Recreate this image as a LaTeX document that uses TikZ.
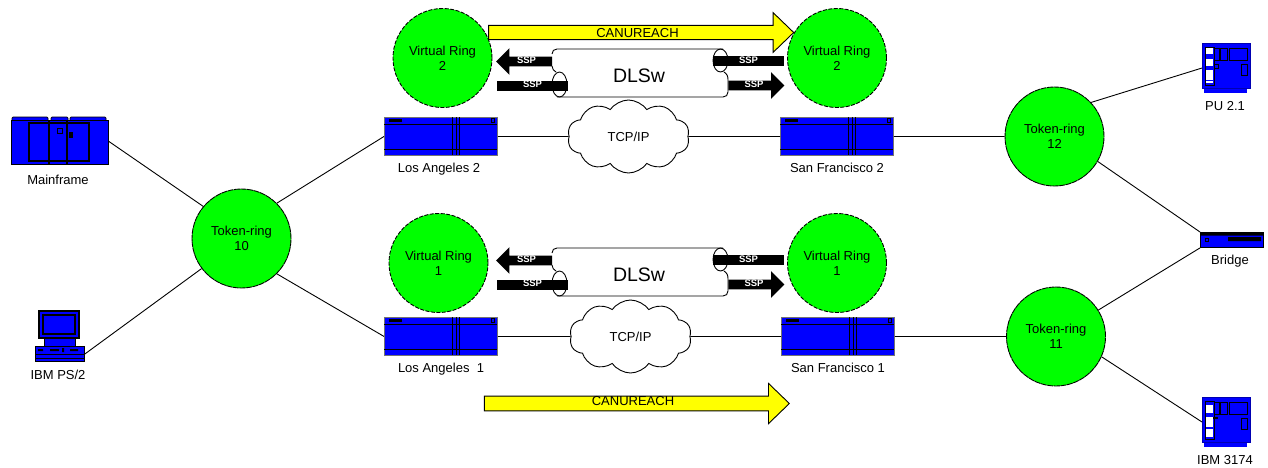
\documentclass[tikz,border=0pt]{standalone}
\usepackage{fontspec}
\setmainfont{Liberation Sans}
\usetikzlibrary{shapes.arrows,shapes.symbols}
\definecolor{ringgreen}{RGB}{0,255,0}
\definecolor{iconblue}{RGB}{0,0,255}
\definecolor{reachyellow}{RGB}{255,255,0}
\begin{document}
\begin{tikzpicture}[
		x=1pt,y=-1pt,
		line width=0.9pt,
		font=\fontsize{13}{15}\selectfont,
		lbl/.style={inner sep=0pt,text height=9.4pt,text depth=0pt},
		ring/.style={circle,draw,fill=ringgreen,inner sep=0pt,minimum size=99pt,align=center},
		tokenring/.style={ring,dash pattern=on 6pt off 0.6pt},
		virtualring/.style={ring,dash pattern=on 4pt off 1.5pt},
		box/.style={rectangle,draw,fill=iconblue,inner sep=0pt,anchor=north west},
		routerbox/.style={box,draw=black!55,minimum width=113pt,minimum height=38pt},
		ipcloud/.style={cloud,draw,cloud puffs=10,cloud puff arc=110,cloud ignores aspect,inner sep=0pt,minimum width=122pt,minimum height=73pt},
		reach/.style={single arrow,draw,fill=reachyellow,inner sep=0pt,minimum height=305pt,minimum width=39pt,single arrow head extend=12.7pt,single arrow tip angle=88},
		sspfont/.style={text=white,font=\fontsize{9.5}{10}\bfseries\selectfont,inner sep=0pt,text height=6.5pt,text depth=2.5pt},
		ssparrow/.style={single arrow,fill=black,sspfont,minimum height=56pt,minimum width=26pt,single arrow head extend=8.5pt,single arrow tip angle=90},
		sspbar/.style={rectangle,fill=black,sspfont,minimum width=71pt,minimum height=10pt}
	]
	\useasboundingbox (0,0) rectangle (1268,467);
	\fill[white] (0,0) rectangle (1268,467);

	\node[tokenring] (ring10) at (241.5,238.5) {Token-ring\\10};
	\node[tokenring] (ring12) at (1054.5,136.5) {Token-ring\\12};
	\node[tokenring] (ring11) at (1056,336.5) {Token-ring\\11};

	\foreach \name/\x/\y/\txt in {vr2l/442.5/58/2,vr2r/837/58/2,vr1l/438.5/263/1,vr1r/837/263/1}
		\node[virtualring] (\name) at (\x,\y) {Virtual Ring\\\txt};

	\foreach \name/\x/\y/\lx/\txt in {
			la2/384/117/439/Los Angeles 2,
			sf2/780/117/837/San Francisco 2,
			la1/384/317/441/Los Angeles\ \ 1,
			sf1/781/317/838/San Francisco 1}{
		\node[routerbox] (\name) at (\x,\y) {};
		\draw (\x,\y+7) -- +(113,0) (\x,\y+32) -- +(113,0);
		\draw (\x+68,\y) -- +(0,38) (\x+72,\y) -- +(0,38) (\x+75,\y) -- +(0,38);
		\fill (\x+5,\y+2) rectangle +(13,3);
		\draw[line width=0.6pt] (\x+107,\y+1.5) rectangle +(3.5,3.5);
		\node[lbl] (\name-lbl) at (\lx,\y+51) {\txt};
	}

	\node[ipcloud] (cloud2) at (628.5,136.5) {TCP/IP};
	\node[ipcloud] (cloud1) at (630.5,336.5) {TCP/IP};

	\foreach \n/\d in {2/0,1/199}{
		\begin{scope}[shift={(0,\d)}]
			\draw (552,66) .. controls (552,69) and (554,71) .. (556,72)
				(552,54) .. controls (552,51) and (554,49) .. (557,49) -- (723,49)
				(724,72) .. controls (727,74) and (728,76) .. (728,80) -- (728,92) .. controls (728,95) and (726,97) .. (723,97) -- (557,97);
			\draw (559.5,84.5) ellipse (7.5 and 12.5);
			\draw (720.5,60.5) ellipse (7.5 and 11.5);
			\node[font=\fontsize{19.5}{20}\selectfont,inner sep=0pt] (dlsw\n) at (639,76) {DLSw};
			\node[ssparrow,shape border rotate=180] (sspa\n) at (526.5,61.5) {SSP};
			\node[sspbar] (sspb\n) at (532.5,85.5) {SSP};
			\node[sspbar] (sspc\n) at (748.5,61) {SSP};
			\node[ssparrow] (sspd\n) at (754,85.5) {SSP};
		\end{scope}
	}

	\node[reach,text height=11.3pt,text depth=2pt] (reach2) at (637.5,32.5) {CANUREACH};
	\node[reach,text height=9.4pt,text depth=4.5pt] (reach1) at (633,403.5) {CANUREACH};

	\node[box,minimum width=97pt,minimum height=48pt,draw=none,fill=none] (mainframe) at (11,117) {};
	\fill[iconblue,draw=black,line width=0.7pt,rounded corners=1pt] (12,117) rectangle (48,121) (51,117) rectangle (68,121) (70,117) rectangle (106,121);
	\filldraw[fill=iconblue] (11,120.5) rectangle (108,164);
	\draw[line width=1.2pt] (29,123) rectangle (89,161);
	\draw[line width=1.8pt] (49,120) -- (49,165) (67,120) -- (67,165);
	\draw[line width=0.7pt] (57,128) rectangle +(5,5);
	\fill (69,132) rectangle +(3.5,6);
	\node[lbl] (mainframe-lbl) at (58,180) {Mainframe};

	\filldraw[fill=iconblue,line width=1.2pt] (39,311) rectangle (79,338);
	\draw[line width=1.2pt] (43,315) rectangle (75,334);
	\filldraw[fill=iconblue] (44,338) rectangle (75,346);
	\node[box,minimum width=49pt,minimum height=15pt] (ps2) at (35,346) {};
	\draw (35,354) -- (84,354) (35,358) -- (84,358);
	\fill (38,349) rectangle +(5,2) (50,349) rectangle +(9,2) (62,348) rectangle +(2,4) (70,349) rectangle +(8,2);
	\node[lbl] (ps2-lbl) at (58,375) {IBM PS/2};

	\foreach \name/\y/\lx/\txt/\slots in {
			pu/43/1225/PU 2.1/{5/6,16/7,27/10,38/2},
			ibm/397/1225/IBM 3174/{8/8,20/10,32/8}}{
		\fill[iconblue] (1204,\y+45) rectangle +(43,5);
		\node[box,minimum width=48pt,minimum height=45pt,draw=iconblue!70!black] (\name) at (1202,\y) {};
		\coordinate (\name-c) at (1202,\y+25);
		\draw[line width=0.6pt] (1205,\y+4) rectangle (1214,\y+42);
		\foreach \s/\h in \slots
			\fill[white] (1206,\y+\s) rectangle +(7,\h);
		\draw[line width=0.7pt] (1214,\y+5) rectangle +(5,12) (1220,\y+5) rectangle +(7,12) (1229,\y+5) rectangle +(18,12) (1241,\y+21) rectangle +(6,11);
		\node[lbl] (\name-lbl) at (\lx,\y+63) {\txt};
	}
	\draw[line width=0.6pt] (1214,64) rectangle +(4,4);
	\fill (1213,417) rectangle +(5,2);

	\node[box,minimum width=63pt,minimum height=15pt] (bridge) at (1200,232) {};
	\fill (1200,232) rectangle (1263,235.5) (1228,237) rectangle (1261,241);
	\draw[line width=0.7pt] (1205,238) rectangle +(3,3);
	\node[lbl] (bridge-lbl) at (1230,260) {Bridge};

	\draw (mainframe.east) -- (ring10.140);
	\draw (ps2.east) -- (ring10.217);
	\draw (ring10.45) -- (la2.west);
	\draw (ring10.-45) -- (la1.west);
	\draw (la2.east) -- (cloud2);
	\draw (cloud2) -- (sf2.west);
	\draw (la1.east) -- (cloud1);
	\draw (cloud1) -- (sf1.west);
	\draw (sf2.east) -- (ring12);
	\draw (sf1.east) -- (ring11);
	\draw (ring12.43) -- (pu-c);
	\draw (ring12.-30) -- (bridge.north west);
	\draw (ring11.32) -- (bridge.south west);
	\draw (ring11.-24) -- (ibm-c);
\end{tikzpicture}
\end{document}
